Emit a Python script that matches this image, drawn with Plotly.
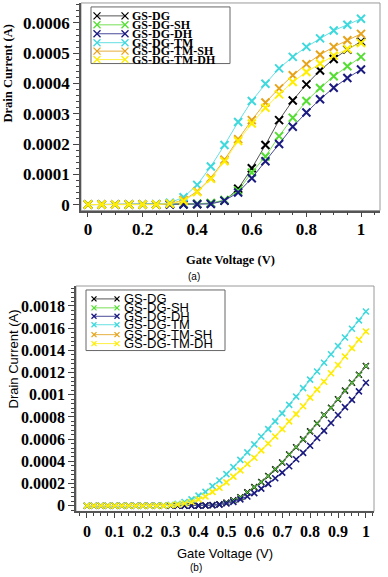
import plotly.graph_objects as go

# ---------------- data ----------------
series_names = ["GS-DG", "GS-DG-SH", "GS-DG-DH", "GS-DG-TM", "GS-DG-TM-SH", "GS-DG-TM-DH"]
series_colors = ["#000000", "#55dd33", "#1a1a80", "#3fd8dc", "#e6a31a", "#ffee00"]
line_colors = ["#555555", "#77e055", "#4a4a9a", "#66e0e4", "#e8b040", "#fff040"]

# (a) gate voltage 0..1 step 0.05, drain current in A
vg_a = [0.0, 0.05, 0.1, 0.15, 0.2, 0.25, 0.3, 0.35, 0.4, 0.45, 0.5,
        0.55, 0.6, 0.65, 0.7, 0.75, 0.8, 0.85, 0.9, 0.95, 1.0]
id_a_dg = [0, 0, 0, 0, 0, 0, 0.000001, 0.000001, 0.000002, 0.000004, 0.000013,
           0.000052, 0.000120, 0.000197, 0.000279, 0.000344, 0.000397, 0.000443, 0.000481, 0.000512, 0.000538]
id_a_sh = [0, 0, 0, 0, 0, 0, 0.000002, 0.000002, 0.000003, 0.000005, 0.000015,
           0.000046, 0.000106, 0.000159, 0.000226, 0.000287, 0.000342, 0.000385, 0.000424, 0.000457, 0.000488]
id_a_dh = [0, 0, 0, 0, 0, 0, 0, 0, 0.000001, 0.000002, 0.000013,
           0.000040, 0.000087, 0.000143, 0.000200, 0.000257, 0.000304, 0.000348, 0.000386, 0.000418, 0.000446]
id_a_tm = [0, 0, 0, 0, 0, 0.000001, 0.000006, 0.000024, 0.000065, 0.000126, 0.000197,
           0.000273, 0.000342, 0.000399, 0.000450, 0.000488, 0.000521, 0.000549, 0.000575, 0.000594, 0.000614]
id_a_tmsh = [0, 0, 0, 0, 0, 0, 0.000003, 0.000015, 0.000043, 0.000088, 0.000148,
             0.000216, 0.000279, 0.000337, 0.000384, 0.000427, 0.000464, 0.000495, 0.000521, 0.000543, 0.000564]
id_a_tmdh = [0, 0, 0, 0, 0, 0, 0.000003, 0.000012, 0.000041, 0.000085, 0.000143,
             0.000210, 0.000268, 0.000320, 0.000364, 0.000405, 0.000438, 0.000466, 0.000492, 0.000514, 0.000534]

# (b) gate voltage 0..1 step 0.025, drain current in A
vg_b = [0.0, 0.025, 0.05, 0.075, 0.1, 0.125, 0.15, 0.175, 0.2, 0.225,
        0.25, 0.275, 0.3, 0.325, 0.35, 0.375, 0.4, 0.425, 0.45, 0.475,
        0.5, 0.525, 0.55, 0.575, 0.6, 0.625, 0.65, 0.675, 0.7, 0.725,
        0.75, 0.775, 0.8, 0.825, 0.85, 0.875, 0.9, 0.925, 0.95, 0.975, 1.0]
id_b_dg = [0, 0, 0, 0, 0, 0, 0, 0, 0, 0,
           0, 0, 0, 0, 0, 0, 0.000001, 0.000002, 0.000006, 0.000014,
           0.000028, 0.000048, 0.000077, 0.000120, 0.000168, 0.000214, 0.000268, 0.000328, 0.000390, 0.000462,
           0.000527, 0.000598, 0.000670, 0.000741, 0.000818, 0.000883, 0.000960, 0.001037, 0.001108, 0.001180, 0.001259]
id_b_sh = [0, 0, 0, 0, 0, 0, 0, 0, 0, 0,
           0, 0, 0, 0, 0, 0, 0.000001, 0.000002, 0.000006, 0.000014,
           0.000028, 0.000048, 0.000077, 0.000120, 0.000168, 0.000214, 0.000268, 0.000328, 0.000390, 0.000462,
           0.000527, 0.000598, 0.000670, 0.000741, 0.000818, 0.000883, 0.000960, 0.001037, 0.001108, 0.001180, 0.001259]
id_b_dh = [0, 0, 0, 0, 0, 0, 0, 0, 0, 0,
           0, 0, 0, 0, 0, 0, 0.000001, 0.000002, 0.000005, 0.000010,
           0.000020, 0.000034, 0.000057, 0.000083, 0.000114, 0.000154, 0.000197, 0.000248, 0.000299, 0.000356,
           0.000419, 0.000476, 0.000541, 0.000610, 0.000675, 0.000746, 0.000818, 0.000889, 0.000954, 0.001031, 0.001108]
id_b_tm = [0, 0, 0, 0, 0, 0, 0, 0, 0, 0,
           0.000001, 0.000003, 0.000008, 0.000017, 0.000034, 0.000057, 0.000091, 0.000125, 0.000177, 0.000228,
           0.000285, 0.000348, 0.000413, 0.000481, 0.000553, 0.000624, 0.000690, 0.000760, 0.000832, 0.000909,
           0.000983, 0.001060, 0.001137, 0.001210, 0.001288, 0.001365, 0.001439, 0.001516, 0.001595, 0.001670, 0.001750]
id_b_tmsh = [0, 0, 0, 0, 0, 0, 0, 0, 0, 0,
             0, 0.000001, 0.000004, 0.000010, 0.000020, 0.000034, 0.000057, 0.000083, 0.000125, 0.000162,
             0.000211, 0.000262, 0.000319, 0.000376, 0.000433, 0.000499, 0.000561, 0.000624, 0.000690, 0.000760,
             0.000826, 0.000897, 0.000974, 0.001046, 0.001117, 0.001194, 0.001268, 0.001345, 0.001420, 0.001496, 0.001570]
id_b_tmdh = [0, 0, 0, 0, 0, 0, 0, 0, 0, 0,
             0, 0.000001, 0.000004, 0.000010, 0.000020, 0.000034, 0.000057, 0.000083, 0.000125, 0.000162,
             0.000211, 0.000262, 0.000319, 0.000376, 0.000433, 0.000499, 0.000561, 0.000624, 0.000690, 0.000760,
             0.000826, 0.000897, 0.000974, 0.001046, 0.001117, 0.001194, 0.001268, 0.001345, 0.001420, 0.001496, 0.001570]

# ticks
xtick_a = [0, 0.2, 0.4, 0.6, 0.8, 1.0]
xtick_a_text = ["0", "0.2", "0.4", "0.6", "0.8", "1"]
ytick_a = [0, 0.0001, 0.0002, 0.0003, 0.0004, 0.0005, 0.0006]
ytick_a_text = ["0", "0.0001", "0.0002", "0.0003", "0.0004", "0.0005", "0.0006"]
xtick_b = [0, 0.1, 0.2, 0.3, 0.4, 0.5, 0.6, 0.7, 0.8, 0.9, 1.0]
xtick_b_text = ["0", "0.1", "0.2", "0.3", "0.4", "0.5", "0.6", "0.7", "0.8", "0.9", "1"]
ytick_b = [0, 0.0002, 0.0004, 0.0006, 0.0008, 0.001, 0.0012, 0.0014, 0.0016, 0.0018]
ytick_b_text = ["0", "0.0002", "0.0004", "0.0006", "0.0008", "0.001", "0.0012", "0.0014", "0.0016", "0.0018"]

# ---------------- layout constants (pixels) ----------------
W, H = 388, 577


def px_x(p):
    return p / W


def px_y(p):
    return 1 - p / H


fig = go.Figure()

series_a = [id_a_dg, id_a_sh, id_a_dh, id_a_tm, id_a_tmsh, id_a_tmdh]
series_b = [id_b_dg, id_b_sh, id_b_dh, id_b_tm, id_b_tmsh, id_b_tmdh]
hidden_b = ("GS-DG-SH", "GS-DG-TM-SH")  # these coincide with the curves drawn over them

for name, ys, mc, lc in zip(series_names, series_a, series_colors, line_colors):
    fig.add_trace(go.Scatter(x=vg_a, y=ys, name=name, mode="lines+markers",
                             line=dict(color=lc, width=1),
                             marker=dict(symbol="x-thin", size=8, line=dict(color=mc, width=2)),
                             xaxis="x", yaxis="y", showlegend=False))
for name, ys, mc, lc in zip(series_names, series_b, series_colors, line_colors):
    under = name in hidden_b
    fig.add_trace(go.Scatter(x=vg_b, y=ys, name=name, mode="lines+markers",
                             line=dict(color=lc, width=0.6 if under else 1.2),
                             marker=dict(symbol="x-thin", size=5 if under else 6,
                                         line=dict(color=mc, width=1.0 if under else 1.6)),
                             xaxis="x2", yaxis="y2", showlegend=False))

# custom legends on a pixel overlay
legend_specs = [
    dict(box=(91, 230, 7, 64), sx=(97, 125), tx=130, rows=[16, 25, 34, 43, 51.5, 60],
         font=dict(family="Liberation Serif", size=12, weight="bold", color="black"), ms=7),
    dict(box=(86, 225, 292, 353), sx=(94, 117), tx=122, rows=[301, 310, 318.5, 327, 337, 346],
         font=dict(family="Liberation Sans", size=13, color="black"), ms=5),
]
annotations = []
for spec in legend_specs:
    bx0, bx1, by0, by1 = spec["box"]
    fig.add_trace(go.Scatter(x=[bx0, bx1, bx1, bx0, bx0], y=[by0, by0, by1, by1, by0],
                             mode="lines", fill="toself", fillcolor="white",
                             line=dict(color="#666666", width=1),
                             xaxis="x3", yaxis="y3", showlegend=False, hoverinfo="skip"))
    for name, row, mc, lc in zip(series_names, spec["rows"], series_colors, line_colors):
        fig.add_trace(go.Scatter(x=list(spec["sx"]), y=[row, row], mode="lines+markers",
                                 line=dict(color=lc, width=1),
                                 marker=dict(symbol="x-thin", size=spec["ms"], line=dict(color=mc, width=1.3)),
                                 xaxis="x3", yaxis="y3", showlegend=False, hoverinfo="skip"))
        annotations.append(dict(x=spec["tx"], y=row, xref="x3", yref="y3", text=name,
                                showarrow=False, xanchor="left", yanchor="middle",
                                font=spec["font"]))

serif_b = dict(family="Liberation Serif", weight="bold", color="black")
sans = dict(family="Liberation Sans", color="black")


def cap(x, y, text, font, angle=0):
    return dict(x=px_x(x), y=px_y(y), xref="paper", yref="paper", text=text,
                textangle=angle, showarrow=False, xanchor="center", yanchor="middle", font=font)


annotations += [
    cap(8, 74, "Drain Current (A)", dict(size=12.5, **serif_b), -90),
    cap(230, 262, "Gate Voltage (V)", dict(size=12.5, **serif_b)),
    cap(194, 278, "(a)", dict(size=10, **sans)),
    cap(13, 362, "Drain Current (A)", dict(size=13, **sans), -90),
    cap(225, 557, "Gate Voltage (V)", dict(size=13, **sans)),
    cap(196, 571, "(b)", dict(size=10, **sans)),
]

base = dict(showgrid=False, zeroline=False, showline=True, linecolor="#555555", linewidth=1.5,
            ticks="outside", tickcolor="#444444", tickwidth=1.2, tickmode="array")


def minor(d):
    return dict(tickmode="linear", tick0=0, dtick=d, ticks="outside", ticklen=3, tickcolor="#444444")


fig.update_layout(
    width=W, height=H, margin=dict(l=0, r=0, t=0, b=0),
    paper_bgcolor="white", plot_bgcolor="rgba(0,0,0,0)", showlegend=False,
    xaxis=dict(domain=[px_x(81), px_x(380)], range=[-0.0256, 1.0696], anchor="y",
               tickvals=xtick_a, ticktext=xtick_a_text, ticklen=5, ticklabelstandoff=-3,
               tickfont=dict(size=17, **serif_b), minor=minor(0.05), **base),
    yaxis=dict(domain=[px_y(212), px_y(3)], range=[-0.0000197, 0.000666], anchor="x",
               tickvals=ytick_a, ticktext=ytick_a_text, ticklen=6,
               tickfont=dict(size=17, **serif_b), minor=minor(0.00002), **base),
    xaxis2=dict(domain=[px_x(76), px_x(374)], range=[-0.039, 1.029], anchor="y2",
                tickvals=xtick_b, ticktext=xtick_b_text, ticklen=5,
                tickfont=dict(size=16, **serif_b), minor=minor(0.025), **base),
    yaxis2=dict(domain=[px_y(515), px_y(288)], range=[-0.0000512, 0.00198], anchor="x2",
                tickvals=ytick_b, ticktext=ytick_b_text, ticklen=6,
                tickfont=dict(size=16, **serif_b), minor=minor(0.00004), **base),
    xaxis3=dict(domain=[0, 1], range=[0, W], visible=False, anchor="y3", fixedrange=True),
    yaxis3=dict(domain=[0, 1], range=[H, 0], visible=False, anchor="x3", fixedrange=True),
    annotations=annotations,
    shapes=[
        dict(type="rect", xref="x domain", yref="y domain", x0=0, x1=1, y0=0, y1=1,
             line=dict(color="#9a9a9a", width=1), layer="below"),
        dict(type="rect", xref="x2 domain", yref="y2 domain", x0=0, x1=1, y0=0, y1=1,
             line=dict(color="#9a9a9a", width=1), layer="below"),
    ],
)

fig.write_html("out.html", config={"displayModeBar": False},
               post_script=["document.body.style.margin='0px';document.body.style.overflow='hidden';"])
